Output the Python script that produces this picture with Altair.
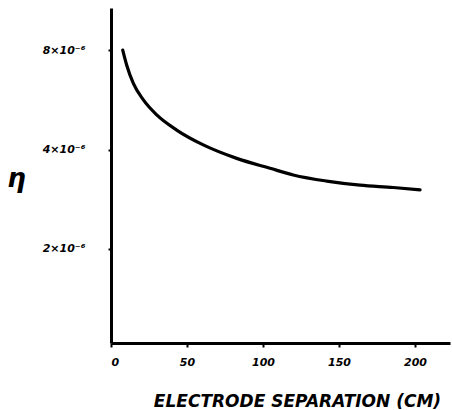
import altair as alt
import pandas as pd

# Electrode separation (cm) and efficiency eta (in units of 1e-6)
separation_cm = [7.7, 10.3, 14.7, 21.3, 30.1, 43.2, 60.7, 82.7, 104.6, 119.9, 141.9, 163.8, 185.7, 203.3]
eta_e6 = [8.0, 7.21, 6.34, 5.65, 5.09, 4.58, 4.13, 3.76, 3.51, 3.35, 3.21, 3.12, 3.07, 3.02]

x_ticks = [0, 50, 100, 150, 200]
y_ticks = [2, 4, 8]

df = pd.DataFrame({"sep": separation_cm, "eta": eta_e6})

FONT = "DejaVu Sans"

chart = (
    alt.Chart(df)
    .mark_line(color="black", strokeWidth=3.2, interpolate="monotone", strokeCap="round")
    .encode(
        x=alt.X(
            "sep:Q",
            scale=alt.Scale(domain=[0, 223], nice=False, zero=False),
            axis=alt.Axis(
                values=x_ticks,
                title="ELECTRODE SEPARATION (CM)",
                titleFont=FONT,
                titleFontSize=17,
                titleFontStyle="italic",
                titleFontWeight="bold",
                titleColor="black",
                titleX=186,
                titleY=50,
                titleBaseline="top",
                labelFont=FONT,
                labelFontSize=11,
                labelFontStyle="italic",
                labelFontWeight="bold",
                labelColor="black",
                labelPadding=9,
                tickSize=4,
                tickWidth=2,
                tickColor="black",
                domainColor="black",
                domainWidth=3,
                grid=False,
            ),
        ),
        y=alt.Y(
            "eta:Q",
            scale=alt.Scale(type="log", domain=[1.039, 10.72], nice=False, zero=False),
            axis=alt.Axis(
                values=y_ticks,
                labelExpr="datum.value + '×10⁻⁶'",
                title="η",
                titleAngle=0,
                titleFont=FONT,
                titleFontSize=26,
                titleFontStyle="italic",
                titleFontWeight="bold",
                titleColor="black",
                titleX=-95,
                titleY=170,
                titleAlign="center",
                titleBaseline="middle",
                labelFont=FONT,
                labelFontSize=11,
                labelFontStyle="italic",
                labelFontWeight="bold",
                labelColor="black",
                labelPadding=23,
                tickSize=3,
                tickWidth=2,
                tickColor="black",
                domainColor="black",
                domainWidth=3,
                grid=False,
            ),
        ),
    )
    .properties(
        width=339,
        height=335,
        autosize=alt.AutoSizeParams(type="none"),
        padding={"left": 111, "top": 8, "right": 2, "bottom": 67},
        background="white",
    )
    .configure_view(stroke=None)
)

chart.save("out.html", embed_options={"renderer": "svg", "actions": False})
